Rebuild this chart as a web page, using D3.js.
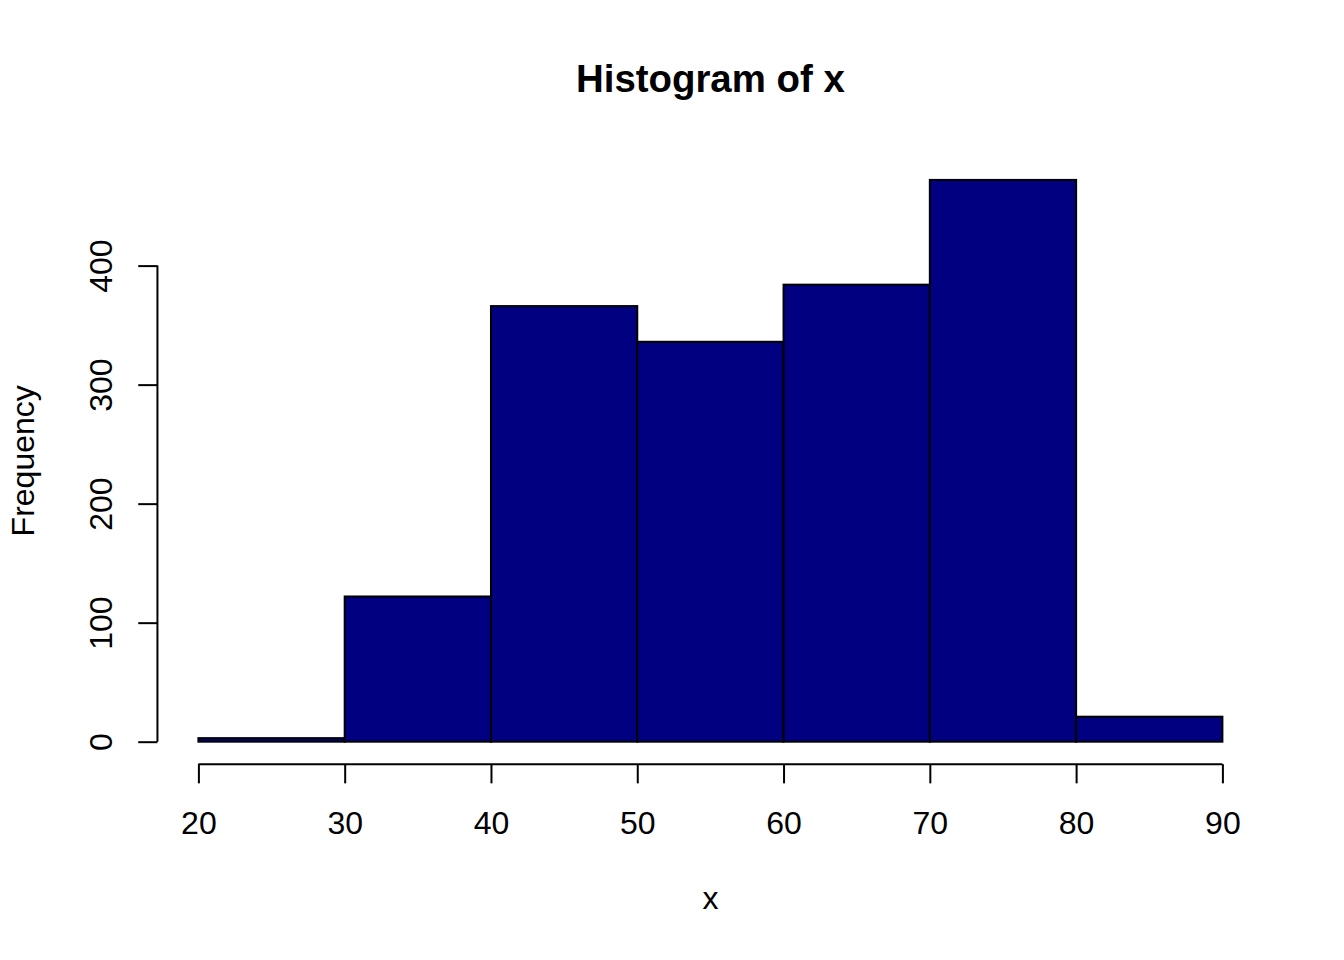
<!DOCTYPE html>
<html>
<head>
<meta charset="utf-8">
<script src="https://cdn.jsdelivr.net/npm/d3@7"></script>
<style>
  body { margin: 0; background: #fff; }
  svg text { font-family: "Liberation Sans", Arial, Helvetica, sans-serif; fill: #000; }
</style>
</head>
<body>
<div id="chart"></div>
<script>
// Histogram data (bin edges and counts)
const breaks = [20, 30, 40, 50, 60, 70, 80, 90];
const counts = [3, 122, 366, 336, 384, 472, 21];
const xTicks = [20, 30, 40, 50, 60, 70, 80, 90];
const yTicks = [0, 100, 200, 300, 400];

const width = 1344;
const height = 960;

// R-style plot region (mar = 5.1, 4.1, 4.1, 2.1 lines of 38.4px)
const lineH = 38.4;
const plot = {
  left: 4.1 * lineH,
  right: width - 2.1 * lineH,
  top: 4.1 * lineH,
  bottom: height - 5.1 * lineH
};

// R extends the data range by 4% on each side
const xMin = d3.min(breaks), xMax = d3.max(breaks);
const yMax = d3.max(counts);
const xPad = (xMax - xMin) * 0.04;
const yPad = yMax * 0.04;

const x = d3.scaleLinear()
  .domain([xMin - xPad, xMax + xPad])
  .range([plot.left, plot.right]);

const y = d3.scaleLinear()
  .domain([-yPad, yMax + yPad])
  .range([plot.bottom, plot.top]);

const bins = counts.map((c, i) => ({ x0: breaks[i], x1: breaks[i + 1], count: c }));

const svg = d3.select("#chart")
  .append("svg")
  .attr("width", width)
  .attr("height", height)
  .attr("viewBox", [0, 0, width, height]);

// Bars
svg.append("g")
  .selectAll("rect")
  .data(bins)
  .join("rect")
  .attr("x", d => x(d.x0))
  .attr("y", d => y(d.count))
  .attr("width", d => x(d.x1) - x(d.x0))
  .attr("height", d => y(0) - y(d.count))
  .attr("fill", "#000080")
  .attr("stroke", "#000")
  .attr("stroke-width", 2);

// X axis
const xAxis = svg.append("g")
  .attr("transform", `translate(0,${plot.bottom})`)
  .call(d3.axisBottom(x).tickValues(xTicks).tickSize(19.2).tickSizeOuter(0).tickFormat(d3.format("d")));

xAxis.select(".domain").remove();
xAxis.append("line")
  .attr("x1", x(xTicks[0]))
  .attr("x2", x(xTicks[xTicks.length - 1]))
  .attr("stroke", "#000")
  .attr("stroke-width", 2);
xAxis.selectAll(".tick line").attr("stroke-width", 2);
xAxis.selectAll(".tick text")
  .attr("y", 70)
  .attr("dy", 0)
  .style("font-size", "32px");

// Y axis
const yAxis = svg.append("g")
  .attr("transform", `translate(${plot.left},0)`)
  .call(d3.axisLeft(y).tickValues(yTicks).tickSize(19.2).tickSizeOuter(0).tickFormat(d3.format("d")));

yAxis.select(".domain").remove();
yAxis.append("line")
  .attr("y1", y(yTicks[0]))
  .attr("y2", y(yTicks[yTicks.length - 1]))
  .attr("stroke", "#000")
  .attr("stroke-width", 2);
yAxis.selectAll(".tick line").attr("stroke-width", 2);
yAxis.selectAll(".tick text")
  .attr("transform", "rotate(-90)")
  .attr("text-anchor", "middle")
  .attr("x", 0)
  .attr("y", -45.5)
  .attr("dy", 0)
  .style("font-size", "32px");

// Title and axis labels
svg.append("text")
  .attr("x", (plot.left + plot.right) / 2)
  .attr("y", 92)
  .attr("text-anchor", "middle")
  .style("font-size", "38.4px")
  .style("font-weight", "bold")
  .text("Histogram of x");

svg.append("text")
  .attr("x", (plot.left + plot.right) / 2)
  .attr("y", 909)
  .attr("text-anchor", "middle")
  .style("font-size", "32px")
  .text("x");

svg.append("text")
  .attr("transform", `translate(33.5,${(plot.top + plot.bottom) / 2}) rotate(-90)`)
  .attr("text-anchor", "middle")
  .style("font-size", "32px")
  .text("Frequency");
</script>
</body>
</html>
